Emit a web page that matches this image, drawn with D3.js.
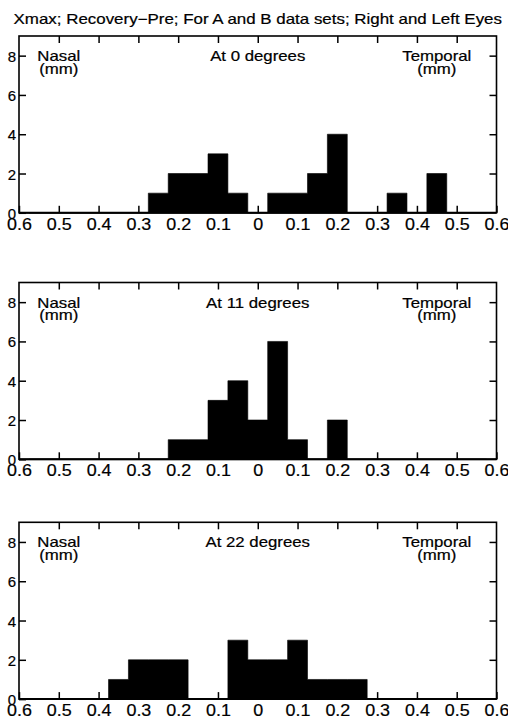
<!DOCTYPE html>
<html>
<head>
<meta charset="utf-8">
<script src="https://cdn.jsdelivr.net/npm/d3@7"></script>
<style>
  html, body { margin: 0; padding: 0; background: #fff; }
  svg { display: block; font-family: "Liberation Sans", Arial, Helvetica, sans-serif; }
  svg text { stroke: #000; stroke-width: 0.2px; }
</style>
</head>
<body>
<svg id="chart" width="508" height="721"></svg>
<script>
// Histogram bins: centres every 0.05 mm, bin width 0.05 mm (negative = nasal, positive = temporal)
const binWidth = 0.05;
const binCenters = d3.range(-11, 12).map(i => i * 0.05);

// Counts per bin, one array per eccentricity
const counts0  = [0,0,0,0,0,0,1,2,2,3,1,0,1,1,2,4,0,0,1,0,2,0,0];
const counts11 = [0,0,0,0,0,0,0,1,1,3,4,2,6,1,0,2,0,0,0,0,0,0,0];
const counts22 = [0,0,0,0,1,2,2,2,0,0,3,2,2,3,1,1,1,0,0,0,0,0,0];

const panelLabels = ["At 0 degrees", "At 11 degrees", "At 22 degrees"];
const panelCounts = [counts0, counts11, counts22];

const xTicks = d3.range(-6, 7).map(i => i / 10);
const yTicks = [0, 2, 4, 6, 8];

const titleText = "Xmax; Recovery\u2212Pre; For A and B data sets; Right and Left Eyes";
const leftLabel = ["Nasal", "(mm)"];
const rightLabel = ["Temporal", "(mm)"];

// Layout
const plotLeft = 19, plotRight = 496.5;
const panelTops = [36, 282.5, 522.3];
const panelHeight = 176.8;

const svg = d3.select("#chart");

const x = d3.scaleLinear().domain([-0.6, 0.6]).range([plotLeft, plotRight]);

// Text drawn with a slight horizontal stretch
function stretchedText(parent, str, px, py, size, sx, anchor) {
  return parent.append("text")
    .attr("transform", `translate(${px},${py}) scale(${sx},1)`)
    .attr("text-anchor", anchor || "middle")
    .attr("font-size", size)
    .attr("fill", "#000")
    .text(str);
}

// Title
stretchedText(svg, titleText, (plotLeft + plotRight) / 2, 24, 14, 1.21);

const fmtX = d => d === 0 ? "0" : d3.format(".1f")(Math.abs(d));

panelCounts.forEach((counts, p) => {
  const top = panelTops[p];
  const bottom = top + panelHeight;
  const y = d3.scaleLinear().domain([0, 9]).range([bottom, top]);
  const g = svg.append("g");

  // Histogram as one stepped area: each bin holds its count from its left edge
  const steps = binCenters.map((c, i) => ({ x0: c - binWidth / 2, n: counts[i] }));
  steps.push({ x0: binCenters[binCenters.length - 1] + binWidth / 2, n: 0 });
  const area = d3.area()
    .x(d => x(d.x0))
    .y0(y(0))
    .y1(d => y(d.n))
    .curve(d3.curveStepAfter);
  g.append("path")
    .datum(steps)
    .attr("d", area)
    .attr("fill", "#000")
    .attr("stroke", "#000")
    .attr("stroke-width", 0.6);

  // Axes with inward ticks
  const axB = g.append("g").attr("transform", `translate(0,${bottom})`)
    .call(d3.axisBottom(x).tickValues(xTicks).tickSizeInner(-7).tickSizeOuter(0).tickFormat(fmtX));
  axB.selectAll("text")
    .attr("y", null).attr("dy", null)
    .attr("transform", "translate(0,17) scale(1.12,1)")
    .attr("font-size", 16)
    .attr("font-family", null);

  g.append("g").attr("transform", `translate(0,${top})`)
    .call(d3.axisTop(x).tickValues(xTicks.slice(1, -1)).tickSizeInner(-7).tickSizeOuter(0).tickFormat(""));

  const axL = g.append("g").attr("transform", `translate(${plotLeft},0)`)
    .call(d3.axisLeft(y).tickValues(yTicks).tickSizeInner(-7).tickSizeOuter(0).tickPadding(3));
  axL.selectAll("text")
    .attr("dy", null).attr("y", 5.5)
    .attr("font-size", 15)
    .attr("font-family", null);

  g.append("g").attr("transform", `translate(${plotRight},0)`)
    .call(d3.axisRight(y).tickValues(yTicks.slice(1)).tickSizeInner(-7).tickSizeOuter(0).tickFormat(""));

  g.selectAll(".domain").remove();
  g.selectAll(".tick line").attr("stroke", "#000").attr("stroke-width", 1.5);
  g.selectAll(".tick text").attr("fill", "#000");

  // Frame
  g.append("rect")
    .attr("x", plotLeft).attr("y", top)
    .attr("width", plotRight - plotLeft).attr("height", panelHeight)
    .attr("fill", "none").attr("stroke", "#000").attr("stroke-width", 1.6);
  g.append("line")
    .attr("x1", plotLeft).attr("x2", plotRight)
    .attr("y1", bottom).attr("y2", bottom)
    .attr("stroke", "#000").attr("stroke-width", 2);

  // In-panel labels
  stretchedText(g, panelLabels[p], x(0), top + 25, 14, 1.2);
  stretchedText(g, leftLabel[0], x(-0.5), top + 25, 14, 1.2);
  stretchedText(g, leftLabel[1], x(-0.5), top + 37.5, 14, 1.2);
  stretchedText(g, rightLabel[0], x(0.45), top + 25, 14, 1.2);
  stretchedText(g, rightLabel[1], x(0.45), top + 37.5, 14, 1.2);
});
</script>
</body>
</html>
